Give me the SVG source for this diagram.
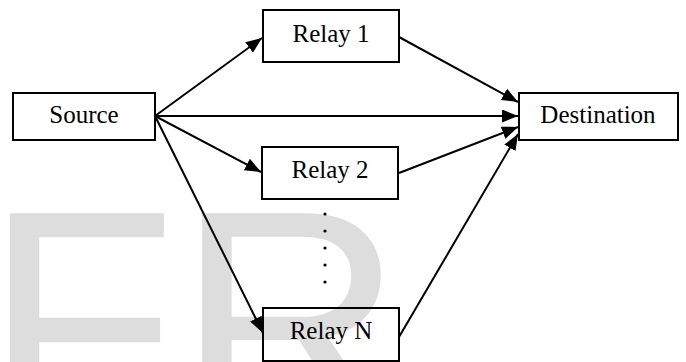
<svg xmlns="http://www.w3.org/2000/svg" width="686" height="362" viewBox="0 0 686 362">
  <style>
    .box { fill: none; stroke: #000; stroke-width: 2; }
    .lbl { font-family: "Liberation Serif", "Times New Roman", serif; font-size: 25px; fill: #000; text-anchor: middle; }
    .conn { stroke: #000; stroke-width: 2; fill: none; marker-end: url(#arrow); }
    .wm { font-family: "Liberation Sans", Arial, sans-serif; font-size: 315px; fill: #dddddd; }
  </style>
  <defs>
    <marker id="arrow" markerUnits="userSpaceOnUse" markerWidth="17" markerHeight="13" refX="16" refY="6.5" orient="auto">
      <path d="M0,0 L16,6.5 L0,13 z" fill="#000"/>
    </marker>
  </defs>
  <rect x="0" y="0" width="686" height="362" fill="#fff"/>
  <text class="wm" x="-16" y="430">FR</text>

  <g id="connectors">
    <line class="conn" x1="155" y1="116" x2="262" y2="38"/>
    <line class="conn" x1="155" y1="116" x2="518" y2="116"/>
    <line class="conn" x1="155" y1="116" x2="261" y2="172"/>
    <line class="conn" x1="155" y1="116" x2="263" y2="333"/>
    <line class="conn" x1="399" y1="37" x2="518" y2="102"/>
    <line class="conn" x1="399" y1="173" x2="518" y2="127"/>
    <line class="conn" x1="399" y1="337" x2="518" y2="134"/>
  </g>

  <g id="source">
    <rect class="box" x="13" y="93" width="142" height="47"/>
    <text class="lbl" x="84" y="123">Source</text>
  </g>
  <g id="relay1">
    <rect class="box" x="263" y="10" width="136" height="52"/>
    <text class="lbl" x="331" y="42">Relay 1</text>
  </g>
  <g id="relay2">
    <rect class="box" x="262" y="147" width="136" height="52"/>
    <text class="lbl" x="330" y="178">Relay 2</text>
  </g>
  <g id="relayN">
    <rect class="box" x="263" y="308" width="136" height="53"/>
    <text class="lbl" x="331" y="339">Relay N</text>
  </g>
  <g id="destination">
    <rect class="box" x="519" y="93" width="159" height="47"/>
    <text class="lbl" x="598" y="123">Destination</text>
  </g>
  <g id="dots" fill="#000">
    <circle cx="325" cy="214" r="1.6"/>
    <circle cx="325" cy="231" r="1.6"/>
    <circle cx="325" cy="248" r="1.6"/>
    <circle cx="325" cy="265" r="1.6"/>
    <circle cx="325" cy="282" r="1.6"/>
  </g>
</svg>
